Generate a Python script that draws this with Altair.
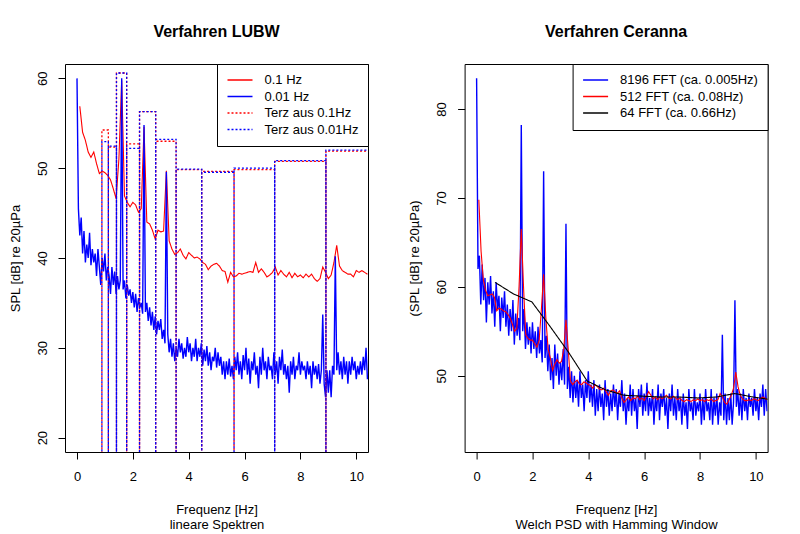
import altair as alt
import pandas as pd

FONT = "Liberation Sans"

# ---------------- left panel: Verfahren LUBW ----------------
# 0.1 Hz spectrum, f = 0.1 ... 10.4
red01_vals = [56.9, 54.0, 53.1, 51.8, 51.2, 51.8, 50.5, 49.4, 49.7, 49.5,
              49.2, 48.7, 47.7, 46.6, 51.0, 59.8, 46.9, 46.2, 45.7, 46.2,
              45.9, 45.1, 45.5, 54.6, 44.0, 43.8, 43.1, 42.1, 43.1, 42.9,
              43.0, 49.7, 41.9, 41.0, 40.4, 40.6, 41.0, 40.3, 39.9, 40.6,
              40.3, 40.0, 40.1, 39.9, 39.5, 39.3, 38.7, 39.1, 39.3, 39.4,
              39.1, 38.6, 38.5, 37.3, 38.4, 37.9, 38.0, 38.3, 38.2, 38.3,
              38.4, 38.5, 38.4, 39.5, 38.4, 38.8, 38.4, 37.9, 38.1, 38.4,
              39.0, 38.1, 38.6, 38.2, 37.9, 38.4, 37.8, 38.3, 37.9, 38.1,
              37.8, 38.2, 37.9, 38.2, 37.7, 37.4, 37.7, 39.0, 38.4, 37.7,
              38.1, 39.5, 41.4, 39.1, 38.6, 38.4, 38.2, 38.2, 37.9, 38.6,
              38.4, 38.6, 38.4, 38.2]

# 0.01 Hz spectrum, read at f = 0.00 ... 10.40 (every 0.05 Hz)
blue001_vals = [60.0, 45.5, 42.5, 44.5, 40.5, 43.0, 39.5, 41.5, 40.0, 42.8,
                39.2, 41.0, 39.5, 40.5, 38.0, 41.0, 39.0, 37.0, 40.0, 38.5,
                40.5, 37.5, 39.0, 38.0, 36.0, 39.0, 37.0, 38.5, 36.0, 38.0,
                36.5, 37.5, 60.0, 36.5, 37.5, 35.5, 37.0, 35.8, 36.5, 35.0,
                36.2, 34.5, 36.0, 34.0, 35.5, 34.5, 35.0, 33.8, 54.8, 34.0,
                35.0, 33.0, 34.5, 32.5, 34.0, 32.0, 33.5, 31.5, 33.0, 32.0,
                33.2, 31.0, 32.0, 30.5, 49.6, 31.5, 29.5, 31.0, 29.0, 30.5,
                28.5, 30.0, 29.0, 31.0, 29.5, 30.5, 28.8, 30.0, 29.0, 31.2,
                29.5, 30.5, 28.5, 30.0, 29.0, 31.0, 28.5, 30.0, 29.0, 30.5,
                28.0, 29.8, 28.5, 30.2, 28.0, 29.5, 27.5, 29.0, 28.5, 30.0,
                27.8, 29.5, 28.0, 29.0, 27.0, 28.5, 26.5, 28.5, 27.0, 28.8,
                26.8, 28.0, 26.5, 29.0, 27.5, 29.5, 27.0, 28.5, 26.5, 29.2,
                27.5, 30.0, 27.0, 28.8, 26.0, 28.5, 27.5, 29.5, 27.0, 28.0,
                25.5, 29.0, 27.0, 30.0, 27.5, 28.5, 26.5, 29.0, 27.5, 28.0,
                26.5, 29.5, 27.0, 28.5, 26.0, 29.0, 27.5, 29.8, 27.0, 28.2,
                26.5, 28.0, 25.0, 28.5, 27.0, 29.0, 26.5, 28.0, 27.5, 29.5,
                27.0, 28.5, 27.5, 28.0, 26.5, 28.5, 27.0, 28.0, 25.5, 28.5,
                27.0, 28.0, 26.5, 28.2, 26.0, 27.5, 33.7, 26.0, 24.5, 27.5,
                25.0, 27.5, 24.5, 28.0, 27.0, 40.2, 27.5, 29.5, 27.0, 28.5,
                26.5, 29.0, 27.0, 28.5, 26.0, 28.5, 27.0, 29.0, 27.5, 28.5,
                26.5, 28.0, 27.0, 28.5, 27.0, 29.0, 27.5, 30.0, 26.5]

# third-octave bands (edges) and their levels
terz_edges = [0.891, 1.122, 1.413, 1.778, 2.239, 2.818, 3.548, 4.467, 5.623, 7.079, 8.913, 11.22]
terz_red = [54.25, 52.35, 60.6, 52.7, 56.3, 53.0, 49.85, 49.65, 49.85, 50.75, 51.9]
terz_blue = [52.95, 52.45, 60.6, 52.2, 56.3, 53.2, 49.9, 49.55, 50.0, 50.85, 52.0]
terz_floor = 0.0

left_names = ["0.1 Hz", "0.01 Hz", "Terz aus 0.1Hz", "Terz aus 0.01Hz"]
left_colors = ["#FF0000", "#0000FF", "#FF0000", "#0000FF"]
left_dashes = [[1, 0], [1, 0], [2, 2], [2, 2]]

# ---------------- right panel: Verfahren Ceranna ----------------
# 8196 FFT, read at f = 0.00 ... 10.40 (every 0.05 Hz)
blue8196_vals = [83.45, 62.0, 63.5, 58.0, 62.5, 58.5, 61.0, 56.0, 60.5, 58.0,
                 61.2, 57.0, 59.5, 55.5, 60.5, 57.5, 59.0, 55.0, 58.8, 56.5,
                 59.5, 55.5, 58.0, 54.5, 57.5, 55.0, 58.5, 53.5, 57.0, 54.5,
                 56.5, 54.0, 78.2, 55.0, 57.5, 53.0, 56.0, 53.5, 55.5, 52.5,
                 56.0, 53.0, 55.0, 52.0, 55.5, 52.5, 54.0, 51.5, 73.0, 52.0,
                 54.5, 50.5, 53.5, 49.5, 52.0, 48.5, 53.5, 50.0, 52.5, 49.0,
                 51.5, 49.5, 53.0, 49.0, 67.1, 48.5, 51.0, 47.5, 50.5, 47.0,
                 50.0, 47.5, 49.5, 46.5, 50.5, 47.5, 49.0, 46.0, 49.5, 47.5,
                 50.5, 47.0, 49.0, 46.5, 49.5, 45.5, 48.5, 46.0, 49.0, 46.5,
                 48.0, 45.0, 49.5, 46.5, 48.5, 45.5, 48.0, 46.0, 49.0, 46.5,
                 48.5, 45.0, 48.0, 46.5, 49.5, 46.0, 48.0, 44.5, 47.5, 46.0,
                 49.0, 45.5, 48.5, 46.0, 47.5, 44.0, 48.5, 46.5, 49.0, 45.5,
                 48.0, 46.0, 49.2, 45.5, 47.5, 46.0, 48.5, 44.5, 47.5, 46.0,
                 49.0, 45.0, 48.0, 46.5, 48.5, 45.5, 47.5, 44.0, 48.0, 46.0,
                 49.0, 45.5, 47.5, 45.0, 48.5, 46.0, 47.5, 44.5, 48.0, 45.5,
                 47.0, 44.0, 48.5, 46.0, 47.0, 45.0, 48.5, 45.5, 47.0, 46.0,
                 48.0, 44.5, 47.5, 45.0, 48.5, 46.0, 47.0, 45.0, 48.5, 44.5,
                 47.5, 45.5, 48.0, 44.5, 47.0, 45.5, 54.6, 45.0, 48.0, 44.5,
                 47.5, 45.0, 48.0, 44.5, 47.0, 58.5, 46.5, 48.5, 45.5, 48.0,
                 45.0, 48.5, 46.0, 47.5, 45.0, 48.0, 46.5, 47.5, 45.5, 48.5,
                 46.0, 47.5, 45.0, 48.0, 46.5, 49.0, 45.5, 48.5, 46.0]

# 512 FFT, f = 0.08 ... 10.40
red512_vals = [69.8, 64.0, 60.8, 59.6, 59.0, 59.1, 59.2, 58.8, 57.3, 57.6,
               57.5, 57.3, 57.2, 56.9, 56.5, 55.8, 55.0, 55.3, 60.0, 66.5,
               60.0, 54.6, 54.2, 54.0, 54.0, 53.6, 53.2, 54.0, 57.5, 61.4,
               56.5, 53.0, 52.0, 50.6, 51.3, 51.8, 51.4, 51.6, 53.0, 56.3,
               53.0, 49.4, 49.0, 49.3, 49.5, 49.1, 49.0, 49.3, 49.2, 49.0,
               48.9, 48.6, 49.0, 48.8, 48.5, 48.4, 48.6, 48.2, 47.8, 48.3,
               48.4, 48.2, 48.0, 48.3, 47.5, 47.0, 47.3, 47.6, 47.2, 47.5,
               47.4, 47.7, 47.3, 47.5, 47.2, 47.7, 48.2, 47.8, 47.4, 47.6,
               47.3, 47.6, 47.4, 47.6, 47.8, 47.5, 47.4, 47.7, 47.5, 47.3,
               47.5, 47.2, 47.1, 47.3, 47.2, 47.1, 47.3, 47.2, 47.4, 47.2,
               47.3, 47.1, 47.3, 47.2, 47.4, 47.1, 47.2, 47.3, 48.0, 47.6,
               47.0, 46.8, 47.3, 47.8, 48.6, 50.4, 48.8, 47.8, 47.4, 47.2,
               47.2, 47.3, 47.2, 47.4, 47.3, 47.2, 47.4, 47.6, 47.5, 47.3]

# 64 FFT, f = 0.66 ... 10.56
black64_vals = [60.5, 59.2, 58.3, 55.5, 52.6, 49.4, 48.4, 47.8,
                47.7, 47.6, 47.6, 47.5, 47.6, 48.0, 47.6, 47.3]

right_names = ["8196 FFT (ca. 0.005Hz)", "512 FFT (ca. 0.08Hz)", "64 FFT (ca. 0.66Hz)"]
right_colors = ["#0000FF", "#FF0000", "#000000"]
right_dashes = [[1, 0], [1, 0], [1, 0]]

x_ticks = [0, 2, 4, 6, 8, 10]
left_y_ticks = [20, 30, 40, 50, 60]
right_y_ticks = [50, 60, 70, 80]
X_DOMAIN = [-0.43, 10.42]
LEFT_Y_DOMAIN = [18.4, 61.6]
RIGHT_Y_DOMAIN = [41.42, 85.06]

W, H = 303, 388


def series_df(freqs, vals, name):
    return pd.DataFrame({"f": freqs, "db": vals, "series": name,
                         "i": list(range(len(vals)))})


def terz_df(edges, levels, name):
    fs, ds = [], []
    for k, lvl in enumerate(levels):
        lo, hi = edges[k], edges[k + 1]
        fs += [lo, lo, hi, hi]
        ds += [terz_floor, lvl, lvl, terz_floor]
    return series_df(fs, ds, name)


def grid(step, n, start):
    return [round(start + step * k, 3) for k in range(n)]


def make_legend():
    return alt.Legend(title=None, orient="top-right", offset=0, padding=9.5,
                      strokeColor="black", fillColor="white", cornerRadius=0,
                      symbolType="stroke", symbolSize=625, symbolStrokeWidth=1.3,
                      labelFont=FONT, labelFontSize=13, labelColor="black",
                      labelOffset=11, clipHeight=13, rowPadding=2.5,
                      labelLimit=0)


def x_axis(title_lines):
    return alt.Axis(values=x_ticks, format="d", title=title_lines, domain=False,
                    grid=False, tickSize=7, tickColor="black", tickWidth=1,
                    labelFont=FONT, labelFontSize=13, labelColor="black",
                    labelBaseline="alphabetic", labelPadding=21.7, labelFlush=False,
                    titleFont=FONT, titleFontSize=13, titleFontWeight="normal",
                    titleColor="black", titleBaseline="alphabetic",
                    titleLineHeight=15.5, titleX=W / 2, titleY=61, titleAlign="center")


def y_axis(ticks, title):
    return alt.Axis(values=ticks, format="d", title=title, domain=False, grid=False,
                    tickSize=7, tickColor="black", tickWidth=1,
                    labelFont=FONT, labelFontSize=13, labelColor="black",
                    labelAngle=270, labelAlign="center", labelBaseline="alphabetic",
                    labelPadding=12, labelFlush=False,
                    titleFont=FONT, titleFontSize=13, titleFontWeight="normal",
                    titleColor="black", titleAngle=270, titleAlign="center",
                    titleBaseline="alphabetic", titleX=-46, titleY=H / 2)


def panel(layers_data, names, colors, dashes, y_domain, y_ticks, y_title,
          x_title, title, offsets, widths):
    color = alt.Color("series:N", scale=alt.Scale(domain=names, range=colors),
                      legend=make_legend())
    dash = alt.StrokeDash("series:N", scale=alt.Scale(domain=names, range=dashes),
                          legend=make_legend())
    layers = []
    for df, off, sw in zip(layers_data, offsets, widths):
        layers.append(
            alt.Chart(df).mark_line(clip=True, strokeWidth=sw, strokeDashOffset=off)
            .encode(
                x=alt.X("f:Q", scale=alt.Scale(domain=X_DOMAIN, nice=False, zero=False),
                        axis=x_axis(x_title)),
                y=alt.Y("db:Q", scale=alt.Scale(domain=y_domain, nice=False, zero=False),
                        axis=y_axis(y_ticks, y_title)),
                color=color, strokeDash=dash, order=alt.Order("i:Q"))
        )
    return alt.layer(*layers).properties(
        width=W, height=H,
        title=alt.TitleParams(text=title, font=FONT, fontSize=16, fontWeight="bold",
                              anchor="middle", frame="group", offset=11,
                              baseline="alphabetic", color="black"))


left_layers = [
    series_df(grid(0.1, len(red01_vals), 0.1), red01_vals, left_names[0]),
    series_df(grid(0.05, len(blue001_vals), 0.0), blue001_vals, left_names[1]),
    terz_df(terz_edges, terz_red, left_names[2]),
    terz_df(terz_edges, terz_blue, left_names[3]),
]
right_layers = [
    series_df(grid(0.05, len(blue8196_vals), 0.0), blue8196_vals, right_names[0]),
    series_df(grid(0.08, len(red512_vals), 0.08), red512_vals, right_names[1]),
    series_df(grid(0.66, len(black64_vals), 0.66), black64_vals, right_names[2]),
]

left = panel(left_layers, left_names, left_colors, left_dashes, LEFT_Y_DOMAIN,
             left_y_ticks, "SPL [dB] re 20µPa", ["Frequenz [Hz]", "lineare Spektren"],
             "Verfahren LUBW", [0, 0, 0, 2], [1.1, 1.4, 1.3, 1.3])
right = panel(right_layers, right_names, right_colors, right_dashes, RIGHT_Y_DOMAIN,
              right_y_ticks, "(SPL [dB] re 20µPa)",
              ["Frequenz [Hz]", "Welch PSD with Hamming Window"],
              "Verfahren Ceranna", [0, 0, 0], [1.4, 1.1, 1.1])

chart = (
    alt.hconcat(left, right, spacing=38.6)
    .resolve_scale(color="independent", strokeDash="independent",
                   x="independent", y="independent")
    .resolve_legend(color="independent", strokeDash="independent")
    .properties(padding={"left": 0, "top": 15, "right": 0, "bottom": 0},
                background="white")
    .configure_view(stroke="black", strokeWidth=1)
)

chart.save("out.html", embed_options={"renderer": "svg", "actions": False})
